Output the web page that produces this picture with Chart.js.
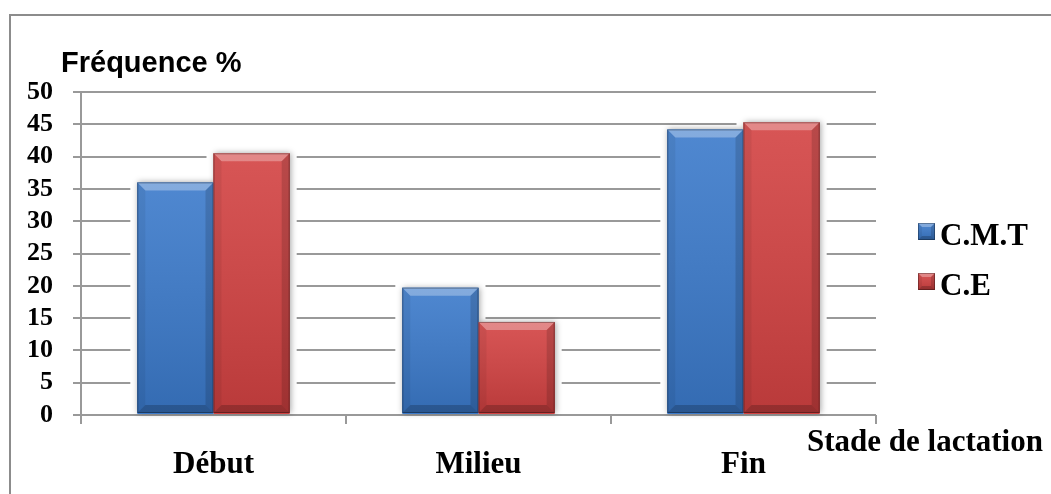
<!DOCTYPE html>
<html>
<head>
<meta charset="utf-8">
<script src="https://cdn.jsdelivr.net/npm/chart.js@4/dist/chart.umd.min.js"></script>
<style>
  html, body { margin: 0; padding: 0; background: #fff; }
  #wrap { width: 1051px; height: 494px; }
</style>
</head>
<body>
<div id="wrap"><canvas id="c" width="1051" height="494"></canvas></div>
<script>
// Lactation stages and detection frequency (%) per test
const stages = ['Début', 'Milieu', 'Fin'];
const seriesNames = ['C.M.T', 'C.E'];
const cmtValues = [36, 19.7, 44.2];
const ceValues = [40.5, 14.4, 45.3];
const yAxisTitle = 'Fréquence %';
const xAxisTitle = 'Stade de lactation';

const seriesColors = ['#3b7acb', '#d34242'];
const serif = 'Liberation Serif';
const sans = 'Liberation Sans';

// Bevelled rectangle: base colour plus light top edge and darker sides/bottom
function bevelRect(ctx, l, t, r, b, color, bev) {
  ctx.save();
  ctx.fillStyle = color;
  ctx.fillRect(l, t, r - l, b - t);
  const g = ctx.createLinearGradient(0, t, 0, b);
  g.addColorStop(0, 'rgba(255,255,255,0.10)');
  g.addColorStop(1, 'rgba(0,0,0,0.12)');
  ctx.fillStyle = g;
  ctx.fillRect(l, t, r - l, b - t);
  const poly = (pts, fill) => {
    ctx.beginPath();
    ctx.moveTo(pts[0][0], pts[0][1]);
    for (let i = 1; i < pts.length; i++) ctx.lineTo(pts[i][0], pts[i][1]);
    ctx.closePath();
    ctx.fillStyle = fill;
    ctx.fill();
  };
  poly([[l, t], [r, t], [r - bev, t + bev], [l + bev, t + bev]], 'rgba(255,255,255,0.30)');
  poly([[l, t], [l + bev, t + bev], [l + bev, b - bev], [l, b]], 'rgba(0,0,0,0.06)');
  poly([[r, t], [r, b], [r - bev, b - bev], [r - bev, t + bev]], 'rgba(0,0,0,0.14)');
  poly([[l, b], [r, b], [r - bev, b - bev], [l + bev, b - bev]], 'rgba(0,0,0,0.20)');
  ctx.strokeStyle = 'rgba(0,0,0,0.30)';
  ctx.lineWidth = 1;
  ctx.strokeRect(l + 0.5, t + 0.5, r - l - 1, b - t - 1);
  ctx.restore();
}

const decor = {
  id: 'decor',
  beforeDraw(chart) {
    const ctx = chart.ctx;
    ctx.save();
    ctx.fillStyle = '#fff';
    ctx.fillRect(0, 0, chart.width, chart.height);
    ctx.strokeStyle = '#8c8c8c';
    ctx.lineWidth = 2;
    ctx.strokeRect(10, 15, 1200, 700);
    ctx.restore();
  },
  beforeDatasetsDraw(chart) {
    const ctx = chart.ctx;
    ctx.save();
    chart.data.datasets.forEach((ds, i) => {
      chart.getDatasetMeta(i).data.forEach(bar => {
        const l = bar.x - bar.width / 2, r = bar.x + bar.width / 2;
        ctx.fillStyle = '#fff';
        ctx.fillRect(l - 7, bar.y - 3, r - l + 14, bar.base - bar.y + 2);
      });
    });
    chart.data.datasets.forEach((ds, i) => {
      chart.getDatasetMeta(i).data.forEach(bar => {
        const l = bar.x - bar.width / 2, r = bar.x + bar.width / 2;
        ctx.save();
        ctx.shadowColor = 'rgba(0,0,0,0.35)';
        ctx.shadowBlur = 6;
        ctx.shadowOffsetX = 1;
        ctx.fillStyle = '#888';
        ctx.fillRect(l, bar.y, r - l, bar.base - bar.y - 1);
        ctx.restore();
      });
    });
    ctx.restore();
  },
  afterDatasetsDraw(chart) {
    const ctx = chart.ctx;
    chart.data.datasets.forEach((ds, i) => {
      chart.getDatasetMeta(i).data.forEach(bar => {
        const l = bar.x - bar.width / 2, r = bar.x + bar.width / 2;
        bevelRect(ctx, l, bar.y, r, bar.base - 1, seriesColors[i], 8);
      });
    });
  },
  afterDraw(chart) {
    const ctx = chart.ctx;
    ctx.save();
    ctx.fillStyle = '#000';
    ctx.textBaseline = 'alphabetic';
    ctx.textAlign = 'left';
    ctx.font = 'bold 29px "' + sans + '"';
    ctx.fillText(yAxisTitle, 61, 72);
    ctx.font = 'bold 31px "' + serif + '"';
    ctx.fillText(xAxisTitle, 807, 451);
    // legend
    seriesNames.forEach((name, i) => {
      const y = 223 + i * 50;
      bevelRect(ctx, 918, y, 935, y + 17, seriesColors[i], 4);
      ctx.fillStyle = '#000';
      ctx.font = 'bold 31px "' + serif + '"';
      ctx.fillText(name, 940, y + 22);
    });
    ctx.restore();
  }
};

new Chart(document.getElementById('c'), {
  type: 'bar',
  data: {
    labels: stages,
    datasets: [
      { label: seriesNames[0], data: cmtValues, backgroundColor: seriesColors[0] },
      { label: seriesNames[1], data: ceValues, backgroundColor: seriesColors[1] }
    ]
  },
  options: {
    responsive: false,
    animation: false,
    devicePixelRatio: 1,
    layout: { padding: { top: 92, right: 175, left: 0, bottom: 0 } },
    datasets: { bar: { barPercentage: 1, categoryPercentage: 0.575, borderWidth: 0 } },
    plugins: { legend: { display: false }, tooltip: { enabled: false }, title: { display: false } },
    scales: {
      x: {
        offset: true,
        grid: { offset: true, drawOnChartArea: false, drawTicks: true, tickLength: 9, color: '#999', lineWidth: 2 },
        border: { display: false },
        ticks: { color: '#000', padding: 22, font: { family: serif, size: 31, weight: 'bold' } },
        afterFit(s) { s.height = 79; }
      },
      y: {
        min: 0,
        max: 50,
        grid: { color: '#999', lineWidth: 2, tickLength: 8 },
        border: { color: '#999', width: 2 },
        ticks: { stepSize: 5, autoSkip: false, color: '#000', padding: 20, font: { family: serif, size: 26, weight: 'bold' } },
        afterFit(s) { s.width = 81; }
      }
    }
  },
  plugins: [decor]
});
</script>
</body>
</html>
